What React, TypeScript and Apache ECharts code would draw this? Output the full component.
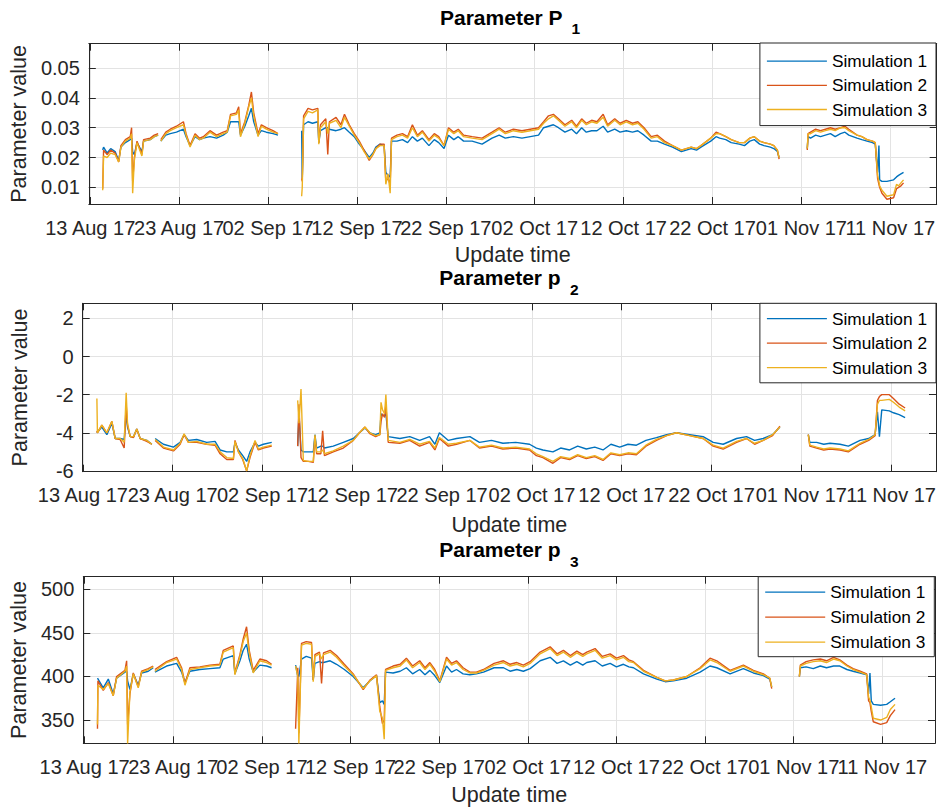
import React, { useEffect, useRef } from 'react';
import * as echarts from 'echarts';

// ---------- shared axis content ----------
// x values are days elapsed since 13 Aug 2017 00:00
const X_TICKS = [0, 10, 20, 30, 40, 50, 60, 70, 80, 90];
const X_LABELS = ['13 Aug 17', '23 Aug 17', '02 Sep 17', '12 Sep 17', '22 Sep 17', '02 Oct 17', '12 Oct 17', '22 Oct 17', '01 Nov 17', '11 Nov 17'];
const SERIES_NAMES = ['Simulation 1', 'Simulation 2', 'Simulation 3'];
const COLORS = ['#0072BD', '#D95319', '#EDB120'];

// ---------- Panel 1 : Parameter P1 ----------
const P1_Y_TICKS = [0.01, 0.02, 0.03, 0.04, 0.05];
const P1_Y_LABELS = ['0.01', '0.02', '0.03', '0.04', '0.05'];
const P1_DAYS = [
  1.40, 1.50, 1.90, 2.30, 2.80, 3.20, 3.45, 3.95, 4.50, 4.65,
  4.77, 4.96, 5.26, 5.81, 6.00, 6.75, 7.20, 7.64, 7.80, 7.94,
  8.50, 9.00, 9.70, 10.48, 10.78, 11.23, 11.79, 12.30, 12.72, 13.47,
  14.21, 14.96, 15.41, 15.78, 16.45, 16.70, 16.90, 17.39, 17.83, 18.13,
  18.39, 18.88, 19.25, 19.81, 20.56, 21.12, 22.00, 23.78, 23.85, 24.00,
  24.50, 25.00, 25.60, 25.71, 25.90, 26.50, 26.72, 26.90, 27.65, 28.20,
  28.60, 29.14, 29.70, 30.26, 30.80, 31.38, 31.80, 32.13, 32.60, 33.06,
  33.25, 33.50, 33.74, 33.89, 34.50, 35.12, 35.70, 36.24, 36.80, 37.36,
  38.10, 38.70, 39.20, 39.80, 40.30, 40.90, 41.40, 42.00, 42.96, 44.08,
  45.20, 46.00, 46.69, 47.60, 48.56, 49.50, 50.43, 51.00, 51.55, 52.10,
  52.67, 53.40, 54.16, 54.70, 55.28, 55.80, 56.40, 57.00, 57.70, 58.20,
  59.00, 59.60, 60.30, 61.00, 61.60, 62.30, 63.10, 63.80, 64.60, 65.50,
  66.50, 67.60, 68.20, 68.70, 69.80, 70.40, 70.80, 71.50, 72.10, 73.00,
  73.60, 74.20, 74.70, 75.30, 75.80, 76.50, 76.90, 77.30, 77.49, 79.00,
  80.66, 80.75, 81.03, 81.60, 82.15, 82.70, 83.27, 83.80, 84.40, 84.90,
  85.33, 86.26, 86.80, 87.38, 88.00, 88.31, 88.57, 88.72, 88.80, 89.06,
  89.62, 90.37, 90.70, 90.93, 91.20, 91.49,
];
const P1_SIM1 = [
  .0225, .0235, .0215, .0230, .0220, .0190, .0235, .0250, .0260, .0265,
  .0220, .0210, .0250, .0220, .0255, .0260, .0270, .0275, null, .0255,
  .0275, .0280, .0285, .0295, .0270, .0240, .0270, .0260, .0265, .0270,
  .0265, .0275, .0285, .0320, .0320, .0320, .0275, .0305, .0340, .0365,
  .0320, .0275, .0290, .0285, .0280, .0275, null, .0290, .0130, .0310,
  .0320, .0315, .0320, .0250, .0290, .0300, .0300, .0295, .0290, .0295,
  .0300, .0285, .0270, .0245, .0225, .0200, .0215, .0235, .0245, .0240,
  .0150, .0140, .0135, .0255, .0255, .0260, .0250, .0270, .0255, .0265,
  .0240, .0260, .0250, .0230, .0275, .0260, .0270, .0255, .0255, .0245,
  .0265, .0275, .0265, .0270, .0265, .0270, .0275, .0300, .0305, .0310,
  .0300, .0285, .0295, .0280, .0300, .0285, .0290, .0290, .0305, .0285,
  .0295, .0285, .0290, .0285, .0290, .0275, .0255, .0255, .0245, .0235,
  .0220, .0230, .0225, .0235, .0255, .0270, .0265, .0260, .0250, .0245,
  .0240, .0255, .0260, .0245, .0240, .0235, .0230, .0220, .0200, null,
  .0230, .0270, .0265, .0275, .0270, .0275, .0280, .0270, .0280, .0285,
  .0275, .0265, .0260, .0255, .0250, .0245, .0150, .0240, .0125, .0120,
  .0120, .0125, .0135, .0140, .0145, .0150,
];
const P1_SIM2 = [
  .0095, .0225, .0210, .0225, .0215, .0185, .0240, .0260, .0270, .0300,
  .0120, .0200, .0255, .0210, .0260, .0265, .0275, .0280, null, .0260,
  .0285, .0295, .0305, .0320, .0280, .0240, .0280, .0265, .0270, .0290,
  .0275, .0285, .0290, .0345, .0350, .0370, .0280, .0320, .0375, .0420,
  .0350, .0280, .0310, .0300, .0290, .0280, null, .0130, .0120, .0340,
  .0365, .0360, .0365, .0250, .0310, .0330, .0210, .0320, .0335, .0310,
  .0345, .0310, .0280, .0255, .0225, .0190, .0210, .0230, .0245, .0245,
  .0120, .0130, .0110, .0265, .0275, .0280, .0270, .0310, .0275, .0290,
  .0260, .0280, .0270, .0240, .0300, .0285, .0295, .0275, .0270, .0265,
  .0285, .0300, .0285, .0295, .0290, .0295, .0300, .0320, .0340, .0345,
  .0330, .0310, .0325, .0305, .0330, .0315, .0325, .0320, .0345, .0310,
  .0330, .0315, .0325, .0315, .0320, .0300, .0270, .0275, .0255, .0240,
  .0225, .0235, .0230, .0240, .0265, .0285, .0280, .0270, .0260, .0250,
  .0250, .0265, .0270, .0255, .0250, .0245, .0240, .0225, .0195, null,
  .0225, .0280, .0285, .0295, .0290, .0295, .0300, .0295, .0300, .0305,
  .0295, .0275, .0270, .0260, .0255, .0250, .0130, .0110, .0100, .0080,
  .0060, .0065, .0095, .0100, .0105, .0115,
];
const P1_SIM3 = [
  .0090, .0205, .0200, .0215, .0210, .0185, .0235, .0255, .0265, .0280,
  .0080, .0190, .0250, .0205, .0255, .0260, .0270, .0275, null, .0255,
  .0280, .0290, .0300, .0310, .0275, .0235, .0275, .0260, .0265, .0285,
  .0270, .0280, .0285, .0340, .0345, .0360, .0270, .0315, .0370, .0400,
  .0340, .0270, .0305, .0295, .0285, .0280, null, .0070, .0100, .0330,
  .0355, .0350, .0360, .0245, .0300, .0320, .0280, .0315, .0325, .0300,
  .0335, .0305, .0275, .0250, .0220, .0195, .0210, .0230, .0240, .0240,
  .0110, .0145, .0080, .0260, .0270, .0275, .0265, .0300, .0270, .0285,
  .0255, .0275, .0265, .0240, .0295, .0280, .0290, .0270, .0265, .0260,
  .0280, .0295, .0280, .0290, .0285, .0290, .0295, .0315, .0330, .0340,
  .0325, .0305, .0320, .0300, .0325, .0310, .0320, .0315, .0335, .0305,
  .0325, .0310, .0320, .0310, .0315, .0295, .0265, .0270, .0250, .0240,
  .0225, .0235, .0230, .0240, .0265, .0280, .0280, .0270, .0260, .0250,
  .0250, .0265, .0270, .0255, .0250, .0245, .0240, .0225, .0200, null,
  .0230, .0280, .0280, .0290, .0285, .0290, .0295, .0290, .0300, .0300,
  .0290, .0275, .0270, .0260, .0255, .0250, .0140, .0120, .0105, .0090,
  .0070, .0075, .0110, .0105, .0115, .0125,
];

// ---------- Panel 2 : Parameter p2 ----------
const P2_Y_TICKS = [-6, -4, -2, 0, 2];
const P2_Y_LABELS = ['-6', '-4', '-2', '0', '2'];
const P2_DAYS = [
  1.56, 1.62, 2.11, 2.67, 3.23, 3.60, 4.15, 4.60, 4.82, 4.97,
  5.27, 5.64, 6.00, 6.38, 7.12, 7.68, 7.85, 8.05, 8.97, 10.09,
  10.83, 11.27, 11.75, 12.68, 13.79, 14.72, 15.28, 16.02, 16.76, 16.94,
  17.32, 17.80, 18.24, 18.61, 19.17, 19.54, 20.10, 21.03, 22.00, 23.92,
  24.06, 24.29, 24.55, 25.10, 25.66, 25.84, 26.03, 26.50, 26.70, 26.90,
  27.88, 29.00, 30.11, 30.80, 31.41, 31.96, 32.60, 33.07, 33.20, 33.37,
  33.60, 33.74, 34.00, 35.30, 36.40, 37.50, 38.60, 39.20, 39.70, 40.70,
  41.60, 43.10, 44.16, 45.50, 46.77, 48.20, 49.74, 50.50, 51.23, 52.34,
  53.20, 54.20, 55.10, 56.06, 57.00, 57.92, 58.80, 59.78, 60.70, 61.64,
  62.70, 63.87, 65.00, 66.10, 67.58, 69.07, 70.19, 71.30, 72.79, 73.90,
  74.80, 75.76, 76.80, 77.62, 79.00, 80.78, 80.95, 81.71, 82.50, 83.20,
  84.31, 85.24, 86.54, 87.50, 88.22, 88.48, 88.70, 88.96, 89.80, 90.26,
  90.90, 91.56,
];
const P2_SIM1 = [
  -4.0, -4.0, -3.7, -4.1, -3.5, -4.3, -4.3, -4.35, -3.0, -3.7,
  -4.2, -4.2, -3.8, -4.3, -4.4, -4.6, null, -4.3, -4.6, -4.75,
  -4.5, -4.1, -4.4, -4.35, -4.5, -4.45, -4.9, -5.0, -5.0, -4.5,
  -4.9, -5.2, -5.5, -5.0, -4.5, -4.7, -4.6, -4.5, null, -4.7,
  -3.0, -4.9, -5.0, -5.0, -5.0, -4.1, -4.8, -4.7, -4.7, -4.8,
  -4.7, -4.5, -4.3, -4.0, -3.75, -4.0, -4.1, -4.0, -3.0, -3.1,
  -3.1, -3.0, -4.2, -4.3, -4.2, -4.4, -4.2, -4.6, -4.0, -4.4,
  -4.3, -4.2, -4.5, -4.4, -4.55, -4.5, -4.6, -4.8, -4.9, -5.0,
  -4.8, -4.9, -4.7, -4.85, -4.75, -4.9, -4.6, -4.75, -4.6, -4.65,
  -4.4, -4.25, -4.1, -4.0, -4.1, -4.2, -4.5, -4.6, -4.3, -4.2,
  -4.4, -4.3, -4.1, -3.7, null, -4.1, -4.5, -4.5, -4.6, -4.55,
  -4.6, -4.7, -4.4, -4.3, -4.1, -2.9, -4.2, -2.8, -2.85, -2.95,
  -3.05, -3.2,
];
const P2_SIM2 = [
  -3.9, -4.0, -3.6, -4.0, -3.4, -4.3, -4.35, -4.8, -2.5, -3.6,
  -4.2, -4.25, -3.8, -4.3, -4.45, -4.6, null, -4.4, -4.8, -4.95,
  -4.6, -4.1, -4.5, -4.5, -4.6, -4.65, -5.1, -5.4, -5.4, -4.4,
  -5.0, -5.4, -6.0, -5.3, -4.5, -4.9, -4.8, -4.7, null, -4.7,
  -2.5, -5.3, -5.5, -5.5, -5.55, -4.2, -5.1, -5.1, -3.9, -5.2,
  -5.0, -4.8, -4.4, -4.0, -3.7, -4.05, -4.2, -4.1, -3.4, -3.0,
  -3.2, -2.5, -4.5, -4.55, -4.4, -4.7, -4.5, -4.9, -4.3, -4.7,
  -4.6, -4.4, -4.8, -4.7, -4.85, -4.8, -4.9, -5.2, -5.3, -5.6,
  -5.3, -5.4, -5.2, -5.35, -5.25, -5.45, -5.1, -5.2, -5.1, -5.15,
  -4.7, -4.4, -4.15, -4.0, -4.15, -4.3, -4.7, -4.85, -4.5, -4.3,
  -4.6, -4.4, -4.15, -3.65, null, -4.1, -4.7, -4.8, -4.9, -4.85,
  -4.9, -5.0, -4.6, -4.4, -4.15, -2.3, -2.1, -2.0, -2.0, -2.2,
  -2.5, -2.7,
];
const P2_SIM3 = [
  -2.2, -4.0, -3.6, -4.0, -3.4, -4.3, -4.3, -4.5, -1.9, -3.5,
  -4.2, -4.2, -3.8, -4.3, -4.4, -4.6, null, -4.35, -4.75, -4.9,
  -4.55, -4.05, -4.5, -4.45, -4.6, -4.6, -5.0, -5.3, -5.35, -4.45,
  -5.0, -5.35, -6.0, -5.2, -4.4, -4.85, -4.75, -4.65, null, -2.3,
  -3.5, -1.7, -5.45, -5.5, -5.5, -4.1, -5.0, -5.0, -4.9, -5.1,
  -4.95, -4.7, -4.4, -4.0, -3.7, -4.0, -4.15, -4.1, -2.4, -2.8,
  -3.0, -2.0, -4.4, -4.5, -4.35, -4.6, -4.45, -4.8, -4.25, -4.6,
  -4.55, -4.4, -4.75, -4.65, -4.8, -4.75, -4.85, -5.1, -5.25, -5.5,
  -5.25, -5.35, -5.15, -5.3, -5.2, -5.4, -5.05, -5.15, -5.05, -5.1,
  -4.65, -4.35, -4.15, -4.0, -4.15, -4.3, -4.65, -4.8, -4.45, -4.3,
  -4.55, -4.4, -4.1, -3.7, null, -4.1, -4.65, -4.75, -4.85, -4.8,
  -4.85, -4.95, -4.55, -4.35, -4.1, -2.5, -2.3, -2.3, -2.25, -2.4,
  -2.65, -2.85,
];

// ---------- Panel 3 : Parameter p3 ----------
const P3_Y_TICKS = [350, 400, 450, 500];
const P3_Y_LABELS = ['350', '400', '450', '500'];
const P3_DAYS = [
  1.45, 1.50, 2.10, 2.67, 3.23, 3.61, 4.55, 4.74, 4.85, 5.11,
  5.49, 6.05, 6.43, 7.18, 7.74, 7.85, 7.93, 9.25, 10.38, 10.94,
  11.32, 11.88, 13.00, 14.14, 15.26, 15.64, 16.77, 16.95, 17.52, 17.89,
  18.27, 18.57, 19.02, 19.77, 20.53, 21.09, 22.00, 23.80, 24.05, 24.17,
  24.47, 25.00, 25.60, 25.79, 25.98, 26.50, 26.73, 26.95, 27.70, 28.42,
  29.30, 30.30, 31.43, 32.20, 32.93, 33.30, 33.60, 33.80, 33.95, 34.80,
  35.60, 36.30, 37.00, 37.80, 38.40, 38.95, 39.50, 40.07, 40.83, 41.40,
  41.95, 42.70, 43.46, 44.20, 45.00, 46.20, 47.26, 48.00, 48.76, 49.50,
  50.26, 51.39, 52.52, 53.30, 54.02, 54.80, 55.53, 56.20, 56.65, 57.59,
  58.40, 59.29, 60.00, 60.79, 61.40, 61.92, 63.05, 64.55, 65.50, 66.43,
  67.93, 69.44, 70.56, 71.32, 72.82, 74.32, 75.45, 76.58, 77.30, 77.52,
  79.00, 80.64, 80.75, 81.40, 82.20, 83.00, 83.70, 84.50, 85.20, 86.00,
  86.70, 87.50, 88.23, 88.45, 88.60, 88.75, 88.98, 89.80, 90.49, 90.90,
  91.43,
];
const P3_SIM1 = [
  398, 398, 387, 397, 380, 398, 405, 406, 395, 385,
  403, 390, 404, 406, 410, null, 405, 412, 415, 405,
  393, 406, 408, 409, 410, 420, 424, 403, 418, 430,
  437, 420, 405, 413, 412, 410, null, 413, 400, 400,
  420, 423, 421, 396, 415, 417, 416, 416, 418, 414,
  408, 400, 387, 395, 401, 370, 372, 368, 405, 404,
  406, 410, 403, 408, 402, 407, 401, 393, 412, 405,
  408, 403, 402, 403, 405, 410, 410, 406, 408, 406,
  409, 418, 422, 415, 418, 413, 417, 413, 416, 418,
  412, 415, 411, 414, 411, 410, 403, 397, 394, 395,
  398, 405, 412, 410, 403, 409, 404, 401, 397, 388,
  null, 400, 410, 411, 409, 412, 410, 412, 412, 408,
  406, 404, 402, 380, 404, 372, 368, 367, 368, 371,
  375,
];
const P3_SIM2 = [
  340, 395, 384, 393, 378, 400, 407, 418, 345, 380,
  404, 388, 406, 409, 412, null, 408, 417, 422, 410,
  392, 410, 411, 413, 414, 430, 435, 404, 425, 443,
  457, 430, 407, 420, 418, 414, null, 340, 410, 335,
  438, 440, 439, 396, 425, 428, 392, 427, 430, 424,
  414, 403, 385, 396, 402, 365, 346, 350, 408, 412,
  414, 421, 412, 418, 410, 416, 408, 395, 422, 415,
  418, 410, 405, 405, 408, 415, 418, 414, 416, 413,
  417, 428, 434, 426, 430, 424, 429, 425, 428, 432,
  423, 426, 421, 424, 419, 417, 407, 399, 395, 396,
  400, 410, 421, 418, 407, 413, 407, 403, 398, 386,
  null, 400, 413, 417, 419, 420, 418, 422, 419, 413,
  409, 406, 403, 372, 370, 360, 348, 345, 347, 355,
  362,
];
const P3_SIM3 = [
  345, 390, 385, 392, 378, 398, 406, 412, 323, 382,
  403, 387, 405, 408, 411, null, 406, 416, 420, 408,
  390, 408, 410, 412, 413, 428, 433, 402, 423, 440,
  450, 427, 404, 418, 416, 413, null, 412, 400, 323,
  436, 438, 437, 394, 423, 426, 420, 425, 428, 422,
  412, 402, 386, 395, 401, 360, 352, 328, 407, 410,
  412, 419, 410, 416, 408, 414, 406, 394, 420, 413,
  416, 408, 404, 404, 407, 413, 416, 412, 414, 411,
  415, 426, 432, 424, 428, 422, 427, 423, 426, 430,
  421, 424, 419, 422, 417, 416, 406, 399, 395, 396,
  400, 409, 419, 416, 406, 412, 406, 402, 398, 388,
  null, 400, 412, 415, 417, 418, 416, 420, 418, 412,
  408, 405, 402, 376, 373, 365, 352, 350, 353, 362,
  368,
];

// ---------- layout / styling ----------
const FONT = "'Liberation Sans', Arial, Helvetica, sans-serif";
const AXIS_COLOR = '#262626';
const GRID_COLOR = '#e3e3e3';

// date labels are split over two label layers so that touching neighbours are never auto-hidden
const X_TICKS_EVEN = X_TICKS.filter((_, i) => i % 2 === 0);
const X_TICKS_ODD = X_TICKS.filter((_, i) => i % 2 === 1);

const PANELS = [
  {
    days: P1_DAYS, sims: [P1_SIM1, P1_SIM2, P1_SIM3],
    yMin: 0.0044, yMax: 0.0582, yTicks: P1_Y_TICKS, yLabels: P1_Y_LABELS,
    xMin: -0.16, xMax: 95.22,
    grid: { left: 85, right: 3.3, top: 43.7, height: 160.3 },
    yNameGap: 55, xNameGap: 39.5,
    legend: { right: 4, top: 43, padding: [6, 9, 4, 7], lineHeight: 24.2 },
    title: { main: 'Parameter P', sub: '1', x: 440, y: 17.5, subX: 571.5, subY: 28 },
  },
  {
    days: P2_DAYS, sims: [P2_SIM1, P2_SIM2, P2_SIM3],
    yMin: -6.04, yMax: 2.79, yTicks: P2_Y_TICKS, yLabels: P2_Y_LABELS,
    xMin: -0.02, xMax: 95.0,
    grid: { left: 82.7, right: 4, top: 303.3, height: 168.4 },
    yNameGap: 52, xNameGap: 42,
    legend: { right: 4, top: 303.3, padding: [3, 9, 3, 7], lineHeight: 24.5 },
    title: { main: 'Parameter p', sub: '2', x: 439.3, y: 277.5, subX: 570, subY: 289 },
  },
  {
    days: P3_DAYS, sims: [P3_SIM1, P3_SIM2, P3_SIM3],
    yMin: 323.3, yMax: 514.5, yTicks: P3_Y_TICKS, yLabels: P3_Y_LABELS,
    xMin: -0.15, xMax: 95.94,
    grid: { left: 83.3, right: 5, top: 576.7, height: 166.6 },
    yNameGap: 53.3, xNameGap: 41,
    legend: { right: 5.7, top: 576.7, padding: [3, 9, 2, 7], lineHeight: 25 },
    title: { main: 'Parameter p', sub: '3', x: 439.3, y: 549, subX: 570, subY: 561 },
  },
];

function pairs(days: number[], vals: (number | null)[]) {
  return days.map((d, i) => [d, vals[i] == null ? '-' : vals[i]]);
}

function labelFor(ticks: number[], labels: string[]) {
  return (v: number) => {
    const i = ticks.findIndex((t) => Math.abs(t - v) < 1e-9);
    return i >= 0 ? labels[i] : '';
  };
}

function buildOption() {
  const grid: any[] = [];
  const xAxis: any[] = [];
  const yAxis: any[] = [];
  const series: any[] = [];
  const legend: any[] = [];
  const graphic: any[] = [];
  const n = PANELS.length;

  const lineStyle = { color: AXIS_COLOR, width: 1 };
  const xLabelBase = {
    show: true, margin: 13.5, fontSize: 20, color: AXIS_COLOR, fontFamily: FONT,
    showMinLabel: true, showMaxLabel: true,
    formatter: labelFor(X_TICKS, X_LABELS),
  };

  PANELS.forEach((p, i) => {
    grid.push({ ...p.grid, containLabel: false });

    xAxis[i] = {
      type: 'value', gridIndex: i, position: 'bottom', min: p.xMin, max: p.xMax,
      axisLine: { show: true, onZero: false, lineStyle },
      axisTick: { show: true, inside: true, length: 7, customValues: X_TICKS, lineStyle },
      axisLabel: { ...xLabelBase, customValues: X_TICKS_EVEN },
      splitLine: { show: true, lineStyle: { color: GRID_COLOR, width: 1 } },
      name: 'Update time', nameLocation: 'middle', nameGap: p.xNameGap,
      nameTextStyle: { fontSize: 21.5, color: AXIS_COLOR, fontFamily: FONT },
    };
    xAxis[n + i] = {
      type: 'value', gridIndex: i, position: 'top', min: p.xMin, max: p.xMax,
      axisLine: { show: true, onZero: false, lineStyle },
      axisTick: { show: true, inside: true, length: 7, customValues: X_TICKS, lineStyle },
      axisLabel: { show: false },
      splitLine: { show: false },
    };
    xAxis[2 * n + i] = {
      type: 'value', gridIndex: i, position: 'bottom', offset: 0, min: p.xMin, max: p.xMax,
      axisLine: { show: false, onZero: false },
      axisTick: { show: false },
      axisLabel: { ...xLabelBase, customValues: X_TICKS_ODD },
      splitLine: { show: false },
    };
    yAxis[i] = {
      type: 'value', gridIndex: i, position: 'left', min: p.yMin, max: p.yMax,
      axisLine: { show: true, onZero: false, lineStyle },
      axisTick: { show: true, inside: true, length: 7, customValues: p.yTicks, lineStyle },
      axisLabel: {
        show: true, customValues: p.yTicks, margin: 9, fontSize: 20, color: AXIS_COLOR, fontFamily: FONT,
        showMinLabel: true, showMaxLabel: true,
        formatter: labelFor(p.yTicks, p.yLabels),
      },
      splitLine: { show: true, lineStyle: { color: GRID_COLOR, width: 1 } },
      name: 'Parameter value', nameLocation: 'middle', nameGap: p.yNameGap,
      nameTextStyle: { fontSize: 21.5, color: AXIS_COLOR, fontFamily: FONT },
    };
    yAxis[n + i] = {
      type: 'value', gridIndex: i, position: 'right', min: p.yMin, max: p.yMax,
      axisLine: { show: true, onZero: false, lineStyle },
      axisTick: { show: true, inside: true, length: 7, customValues: p.yTicks, lineStyle },
      axisLabel: { show: false },
      splitLine: { show: false },
    };

    p.sims.forEach((vals, k) => {
      series.push({
        type: 'line', name: SERIES_NAMES[k], xAxisIndex: i, yAxisIndex: i,
        data: pairs(p.days, vals), symbol: 'none', showSymbol: false, connectNulls: false,
        lineStyle: { width: 1.4, color: COLORS[k] }, itemStyle: { color: COLORS[k] },
        silent: true, clip: true, z: 2 + k,
      });
    });

    legend.push({
      orient: 'vertical', right: p.legend.right, top: p.legend.top, padding: p.legend.padding,
      data: SERIES_NAMES, icon: 'rect', itemWidth: 60, itemHeight: 1.3, itemGap: 0,
      itemStyle: { borderWidth: 0 },
      backgroundColor: '#ffffff', borderColor: AXIS_COLOR, borderWidth: 1, borderRadius: 0,
      selectedMode: false,
      textStyle: { fontSize: 17.3, lineHeight: p.legend.lineHeight, color: '#000', fontFamily: FONT },
    });

    graphic.push({
      type: 'text', x: p.title.x, y: p.title.y, silent: true,
      style: { text: p.title.main, fontSize: 21, fontWeight: 'bold', fontFamily: FONT, fill: '#000', align: 'left', verticalAlign: 'middle' },
    });
    graphic.push({
      type: 'text', x: p.title.subX, y: p.title.subY, silent: true,
      style: { text: p.title.sub, fontSize: 15.5, fontWeight: 'bold', fontFamily: FONT, fill: '#000', align: 'left', verticalAlign: 'middle' },
    });
  });

  return {
    animation: false,
    backgroundColor: '#ffffff',
    textStyle: { fontFamily: FONT },
    grid, xAxis, yAxis, series, legend, graphic,
  };
}

export default function App() {
  const ref = useRef<HTMLDivElement>(null);
  useEffect(() => {
    if (!ref.current) return;
    const chart = echarts.init(ref.current, null, { renderer: 'svg' });
    chart.setOption(buildOption() as any);
    return () => chart.dispose();
  }, []);
  return (
    <div
      ref={ref}
      style={{ position: 'absolute', left: 0, top: 0, width: 940, height: 810, background: '#fff' }}
    />
  );
}
